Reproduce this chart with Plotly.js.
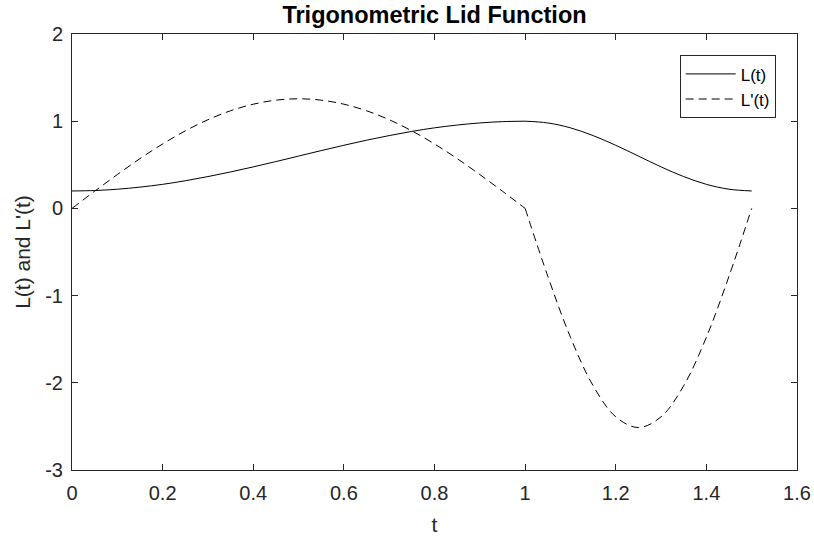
<!DOCTYPE html>
<html>
<head>
<meta charset="utf-8">
<script src="https://cdn.plot.ly/plotly-3.0.1.min.js"></script>
<style>html,body{margin:0;padding:0;background:#fff;}#chart{width:814px;height:540px;}</style>
</head>
<body>
<div id="chart"></div>
<script>
// sample points (t)
const t = [0,0.05,0.1,0.15,0.2,0.25,0.3,0.35,0.4,0.45,0.5,0.55,0.6,0.65,0.7,0.75,0.8,0.85,0.9,0.95,1.0,
           1.05,1.1,1.15,1.2,1.25,1.3,1.35,1.4,1.45,1.5];
// L(t)
const L = [0.200,0.205,0.220,0.244,0.276,0.317,0.365,0.418,0.476,0.537,0.600,0.663,0.724,0.782,0.835,0.883,0.924,0.956,0.980,0.995,1.000,
           0.980,0.924,0.835,0.724,0.600,0.476,0.365,0.276,0.220,0.200];
// L'(t)
const dL = [0.000,0.197,0.388,0.571,0.739,0.889,1.017,1.120,1.195,1.241,1.257,1.241,1.195,1.120,1.017,0.889,0.739,0.571,0.388,0.197,0.000,
            -0.777,-1.477,-2.033,-2.390,-2.513,-2.390,-2.033,-1.477,-0.777,0.000];
const seriesNames = ["L(t)", "L'(t)"];
const xTicks = [0,0.2,0.4,0.6,0.8,1,1.2,1.4,1.6];
const xTickText = ["0","0.2","0.4","0.6","0.8","1","1.2","1.4","1.6"];
const yTicks = [-3,-2,-1,0,1,2];
const yTickText = ["-3","-2","-1","0","1","2"];

const brk = t.indexOf(1.0);
function seg(arr, a, b){ return arr.slice(a, b + 1); }

const traces = [];
const specs = [
  {y: L, name: seriesNames[0], dash: 'solid'},
  {y: dL, name: seriesNames[1], dash: '8px,5px'}
];
specs.forEach((s, i) => {
  traces.push({
    x: seg(t, 0, brk), y: seg(s.y, 0, brk), name: s.name, legendgroup: 'g' + i,
    mode: 'lines', line: {color: '#000', width: 1, dash: s.dash, shape: 'spline', smoothing: 1}
  });
  traces.push({
    x: seg(t, brk, t.length - 1), y: seg(s.y, brk, t.length - 1), name: s.name, legendgroup: 'g' + i,
    showlegend: false,
    mode: 'lines', line: {color: '#000', width: 1, dash: s.dash, shape: 'spline', smoothing: 1}
  });
});

const font = "Liberation Sans, Arial, Helvetica, sans-serif";
const axcol = '#262626';
const layout = {
  width: 814, height: 540,
  paper_bgcolor: '#fff', plot_bgcolor: '#fff',
  margin: {l: 72, r: 17, t: 33.5, b: 70, pad: 0},
  font: {family: font, color: axcol, size: 19},
  title: {text: '<b>Trigonometric Lid Function</b>', font: {family: font, size: 23.5, color: '#000'},
          x: 0.5, xref: 'paper', xanchor: 'center', y: 0.973, yref: 'container', yanchor: 'middle'},
  showlegend: true,
  legend: {x: 0.9706, xanchor: 'right', y: 0.951, yanchor: 'top',
           bgcolor: '#fff', bordercolor: axcol, borderwidth: 1, itemwidth: 50,
           font: {family: font, size: 17, color: '#000'}, tracegroupgap: 0},
  xaxis: {range: [0, 1.6], tickvals: xTicks, ticktext: xTickText,
          showline: true, linecolor: axcol, linewidth: 1, mirror: 'ticks',
          ticks: 'inside', ticklen: 6, tickcolor: axcol, showgrid: false, zeroline: false,
          ticklabelstandoff: 5,
          tickfont: {size: 20, color: axcol},
          title: {text: 't', font: {size: 21, color: axcol}, standoff: 14}},
  yaxis: {range: [-3, 2], tickvals: yTicks, ticktext: yTickText,
          showline: true, linecolor: axcol, linewidth: 1, mirror: 'ticks',
          ticks: 'inside', ticklen: 6, tickcolor: axcol, showgrid: false, zeroline: false,
          ticklabelstandoff: 4,
          tickfont: {size: 20, color: axcol},
          title: {text: "L(t) and L'(t)", font: {size: 21, color: axcol}, standoff: 8}}
};

Plotly.newPlot('chart', traces, layout, {staticPlot: true, displayModeBar: false});
</script>
</body>
</html>
